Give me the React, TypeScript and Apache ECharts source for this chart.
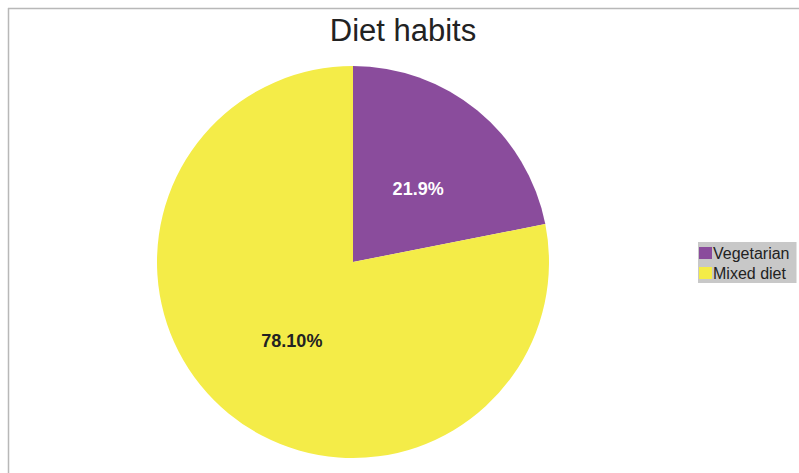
import React, { useEffect, useRef } from "react";
import * as echarts from "echarts";

const categories = ["Vegetarian", "Mixed diet"];
const values = [21.9, 78.1];
const valueLabels = ["21.9%", "78.10%"];
const colors = ["#8a4c9c", "#f4ec48"];
const labelColors = ["#ffffff", "#222222"];
const labelOffsets = [
  [1, 5],
  [3, 1],
];

export default function App() {
  const ref = useRef<HTMLDivElement>(null);
  useEffect(() => {
    if (!ref.current) return;
    const chart = echarts.init(ref.current, null, { renderer: "svg" });
    chart.setOption({
      animation: false,
      backgroundColor: "#ffffff",
      title: {
        text: "Diet habits",
        left: 398,
        top: 10,
        textAlign: "center",
        textStyle: {
          fontFamily: "Liberation Sans, Arial, sans-serif",
          fontSize: 31,
          fontWeight: "normal",
          color: "#222222",
        },
      },
      legend: {
        orient: "vertical",
        left: 698,
        top: 242,
        backgroundColor: "#c8c8c8",
        padding: [3, 7, 2, 1],
        itemWidth: 13,
        itemHeight: 12,
        itemGap: 4,
        icon: "rect",
        selectedMode: false,
        data: categories,
        textStyle: {
          fontFamily: "Liberation Sans, Arial, sans-serif",
          fontSize: 16,
          lineHeight: 16,
          color: "#222222",
          padding: [0, 0, 0, -4],
        },
      },
      graphic: [
        {
          type: "line",
          shape: { x1: 8, y1: 8.5, x2: 799, y2: 8.5 },
          style: { stroke: "#b8b8b8", lineWidth: 1.5 },
          silent: true,
        },
        {
          type: "line",
          shape: { x1: 8.5, y1: 8, x2: 8.5, y2: 473 },
          style: { stroke: "#b8b8b8", lineWidth: 1.5 },
          silent: true,
        },
      ],
      series: [
        {
          type: "pie",
          center: [353, 262],
          radius: 196,
          startAngle: 90,
          clockwise: true,
          avoidLabelOverlap: false,
          itemStyle: { borderWidth: 0 },
          emphasis: { disabled: true },
          label: {
            show: true,
            position: "inside",
            fontFamily: "Liberation Sans, Arial, sans-serif",
            fontSize: 18,
            fontWeight: "bold",
          },
          labelLine: { show: false },
          data: categories.map((name, i) => ({
            name,
            value: values[i],
            itemStyle: { color: colors[i] },
            label: {
              formatter: valueLabels[i],
              color: labelColors[i],
              offset: labelOffsets[i],
            },
          })),
        },
      ],
    });
    return () => chart.dispose();
  }, []);
  return (
    <div
      ref={ref}
      style={{ position: "fixed", left: 0, top: 0, width: 799, height: 473 }}
    />
  );
}
